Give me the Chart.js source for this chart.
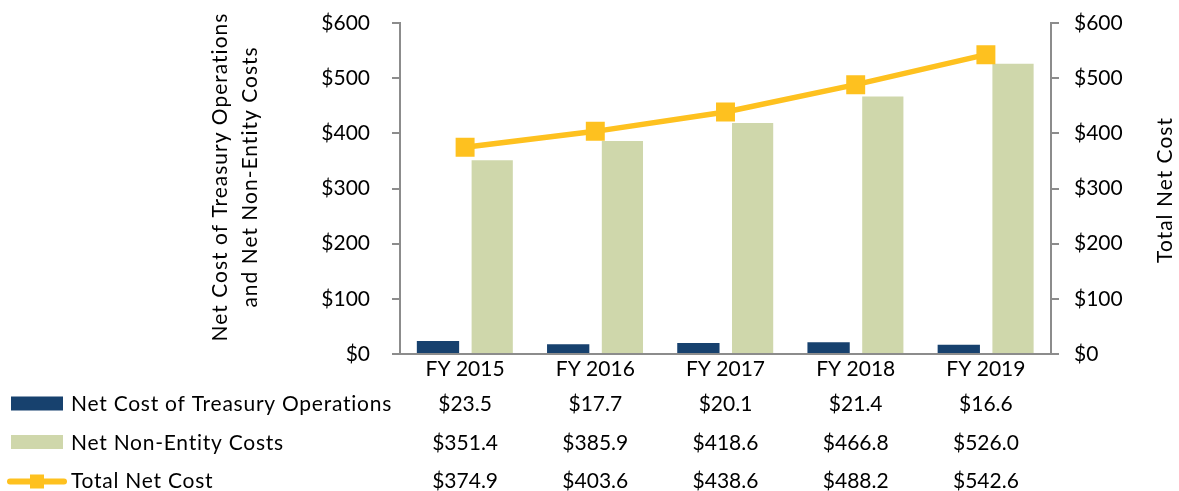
<!DOCTYPE html>
<html lang="en">
<head>
    <meta charset="UTF-8">
    <title>Treasury Net Cost</title>
    <style>
        body {
            margin: 0;
            padding: 0;
            background-color: #fff;
        }

        .chart-box {
            width: 1179px;
            height: 491px;
        }
    </style>
</head>
<body>

    <div class="chart-box">
        <canvas id="costChart"></canvas>
    </div>

    <script src="https://cdn.jsdelivr.net/npm/chart.js"></script>
    <script>
        // Data
        const years = ['FY 2015', 'FY 2016', 'FY 2017', 'FY 2018', 'FY 2019'];
        const treasuryOps = [23.5, 17.7, 20.1, 21.4, 16.6];
        const nonEntity = [351.4, 385.9, 418.6, 466.8, 526.0];
        const totalNet = [374.9, 403.6, 438.6, 488.2, 542.6];

        const leftTitle = ['Net Cost of Treasury Operations', 'and Net Non-Entity Costs'];
        const rightTitle = 'Total Net Cost';

        const FONT = 'Lato, "Open Sans", sans-serif';
        const axisGray = '#8c8c8c';
        const money = v => '$' + v.toFixed(1);

        // Draws the axis titles and the data table with its legend keys under the chart
        const tablePlugin = {
            id: 'dataTable',
            afterDraw(chart) {
                const ctx = chart.ctx;
                const xScale = chart.scales.x;
                ctx.save();
                ctx.fillStyle = '#000';
                ctx.font = '21px ' + FONT;

                // axis titles
                ctx.textAlign = 'center';
                ctx.textBaseline = 'alphabetic';
                ctx.letterSpacing = '1px';
                [227, 257].forEach((bx, i) => {
                    ctx.save();
                    ctx.translate(bx, 177);
                    ctx.rotate(-Math.PI / 2);
                    ctx.fillText(leftTitle[i], 0, 0);
                    ctx.restore();
                });
                ctx.save();
                ctx.translate(1172, 190);
                ctx.rotate(-Math.PI / 2);
                ctx.fillText(rightTitle, 0, 0);
                ctx.restore();

                // table rows
                const rows = [
                    { ds: chart.data.datasets[0], base: 411 },
                    { ds: chart.data.datasets[1], base: 449.5 },
                    { ds: chart.data.datasets[2], base: 488 }
                ];
                rows.forEach((row, r) => {
                    const mid = row.base - 7.5;
                    // legend key
                    if (r < 2) {
                        ctx.fillStyle = row.ds.backgroundColor;
                        ctx.fillRect(11, mid - 7, 52, 14);
                    } else {
                        ctx.strokeStyle = row.ds.borderColor;
                        ctx.lineWidth = 6;
                        ctx.lineCap = 'round';
                        ctx.beginPath();
                        ctx.moveTo(10, mid + 1);
                        ctx.lineTo(64, mid + 1);
                        ctx.stroke();
                        ctx.fillStyle = row.ds.borderColor;
                        ctx.fillRect(30, mid - 6, 14, 14);
                    }
                    ctx.fillStyle = '#000';
                    ctx.textAlign = 'left';
                    ctx.letterSpacing = '0.75px';
                    ctx.fillText(row.ds.label, 71, row.base);
                    ctx.letterSpacing = '0px';
                    ctx.textAlign = 'center';
                    row.ds.data.forEach((v, i) => {
                        ctx.fillText(money(v), xScale.getPixelForValue(i), row.base);
                    });
                });
                ctx.restore();
            }
        };

        // keep the tick padding from pushing the plot area down
        const fitY = width => scale => {
            scale.width = width;
            scale.paddingTop = 12;
            scale.paddingBottom = 12;
        };

        const ctx = document.getElementById('costChart').getContext('2d');
        const costChart = new Chart(ctx, {
            type: 'bar',
            data: {
                labels: years,
                datasets: [
                    {
                        label: 'Net Cost of Treasury Operations',
                        data: treasuryOps,
                        backgroundColor: '#17416e',
                        categoryPercentage: 0.833,
                        barPercentage: 0.78,
                        yAxisID: 'y',
                        order: 2
                    },
                    {
                        label: 'Net Non-Entity Costs',
                        data: nonEntity,
                        backgroundColor: '#cfd7ab',
                        categoryPercentage: 0.833,
                        barPercentage: 0.76,
                        yAxisID: 'y',
                        order: 2
                    },
                    {
                        type: 'line',
                        label: 'Total Net Cost',
                        data: totalNet,
                        borderColor: '#fec11f',
                        backgroundColor: '#fec11f',
                        borderWidth: 5.5,
                        pointStyle: 'rect',
                        pointRadius: 13.4,
                        pointBorderWidth: 0,
                        yAxisID: 'y1',
                        order: 1
                    }
                ]
            },
            options: {
                responsive: true,
                maintainAspectRatio: false,
                animation: false,
                layout: {
                    padding: { top: 23, bottom: 0, left: 0, right: 0 }
                },
                plugins: {
                    legend: { display: false },
                    tooltip: { enabled: false }
                },
                scales: {
                    x: {
                        grid: { display: false, drawTicks: false },
                        border: { display: true, color: axisGray, width: 2 },
                        ticks: {
                            color: '#000',
                            font: { family: FONT, size: 21 },
                            padding: 3,
                            maxRotation: 0
                        },
                        afterFit(scale) { scale.height = 137; }
                    },
                    y: {
                        position: 'left',
                        min: 0,
                        max: 600,
                        grid: {
                            drawOnChartArea: false,
                            drawTicks: true,
                            tickLength: 8,
                            color: axisGray,
                            lineWidth: 2
                        },
                        border: { display: true, color: axisGray, width: 2 },
                        ticks: {
                            stepSize: 100,
                            padding: 22,
                            color: '#000',
                            font: { family: FONT, size: 21 },
                            callback: v => '$' + v
                        },
                        afterFit: fitY(400)
                    },
                    y1: {
                        position: 'right',
                        min: 0,
                        max: 600,
                        grid: {
                            drawOnChartArea: false,
                            drawTicks: true,
                            tickLength: 8,
                            color: axisGray,
                            lineWidth: 2
                        },
                        border: { display: true, color: axisGray, width: 2 },
                        ticks: {
                            stepSize: 100,
                            padding: 15,
                            color: '#000',
                            font: { family: FONT, size: 21 },
                            callback: v => '$' + v
                        },
                        afterFit: fitY(128)
                    }
                }
            },
            plugins: [tablePlugin]
        });
    </script>

</body>
</html>
